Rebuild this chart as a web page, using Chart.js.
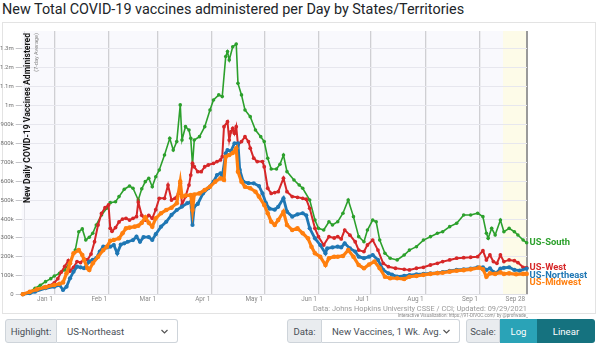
<!DOCTYPE html>
<html lang="en">
<head>
<meta charset="UTF-8">
<title>New Total COVID-19 vaccines administered per Day</title>
<script src="https://cdn.jsdelivr.net/npm/chart.js@4"></script>
<style>
  html, body { margin: 0; padding: 0; background: #fff; }
  body { width: 600px; height: 345px; position: relative; overflow: hidden;
         font-family: Roboto, 'Helvetica Neue', Arial, sans-serif; color: #212529; }
  #title { position: absolute; left: 2px; top: 1px; font-size: 14.4px; white-space: nowrap; }
  #box { position: absolute; left: 2px; top: 22px; width: 594px; height: 292px;
         border: 1px solid #e3e3e3; box-sizing: border-box; }
  #chart { position: absolute; left: 0; top: 22px; }
  #credit { position: absolute; right: 73px; top: 304px; font-size: 7.4px; color: #9a9a9a; white-space: nowrap; }
  #viz { position: absolute; right: 72px; top: 313px; font-size: 4.6px; color: #8a8a8a; white-space: nowrap; }
  .grp { position: absolute; top: 319px; height: 24px; display: flex; font-size: 9.6px; white-space: nowrap; }
  .lbl { background: #e9ecef; border: 1px solid #ced4da; color: #495057; border-radius: 3px 0 0 3px;
         display: flex; align-items: center; justify-content: center; box-sizing: border-box; }
  .sel { border: 1px solid #ced4da; border-left: none; border-radius: 0 3px 3px 0; color: #495057;
         display: flex; align-items: center; justify-content: space-between; padding: 0 9px 0 10px;
         box-sizing: border-box; background: #fff; }
  .btn { color: #fff; display: flex; align-items: center; justify-content: center; box-sizing: border-box; }
</style>
</head>
<body>
<div id="title">New Total COVID-19 vaccines administered per Day by States/Territories</div>
<div id="box"></div>
<canvas id="chart" width="600" height="290"></canvas>
<div id="credit">Data: Johns Hopkins University CSSE / CCI; Updated: 09/29/2021</div>
<div id="viz">Interactive Visualization: https://91-DIVOC.com/ by @profwade_</div>

<div class="grp" style="left:5px;">
  <div class="lbl" style="width:52px;">Highlight:</div>
  <div class="sel" style="width:121px;">US-Northeast
    <svg width="7" height="5" viewBox="0 0 7 5"><path d="M0.5 1 L3.5 4 L6.5 1" fill="none" stroke="#555" stroke-width="1.2"/></svg></div>
</div>
<div class="grp" style="left:287px;">
  <div class="lbl" style="width:35px;">Data:</div>
  <div class="sel" style="width:138px;">New Vaccines, 1 Wk. Avg.
    <svg width="7" height="5" viewBox="0 0 7 5"><path d="M0.5 1 L3.5 4 L6.5 1" fill="none" stroke="#555" stroke-width="1.2"/></svg></div>
</div>
<div class="grp" style="left:466px;">
  <div class="lbl" style="width:34px;">Scale:</div>
  <div class="btn" style="width:37px;background:#2aa3b7;">Log</div>
  <div class="btn" style="width:58px;background:#15727f;border-radius:0 3px 3px 0;">Linear</div>
</div>

<script>
// days counted from Jan 1 2021; values in thousands of doses (7-day average)
const tickDays = [-17, 0, 31, 59, 90, 120, 151, 181, 212, 243, 270];
const tickLabels = ['', 'Jan 1', 'Feb 1', 'Mar 1', 'Apr 1', 'May 1', 'Jun 1', 'Jul 1', 'Aug 1', 'Sep 1', 'Sep 28'];
const yTicks = [0, 100, 200, 300, 400, 500, 600, 700, 800, 900, 1000, 1100, 1200, 1300];

const south = [
  [-18,3],[-14,15],[-11,34],[-8,50],[-5,69],[-2,85],[0,99],[3,113],[6,131],[9,175],[12,236],[14,333],
  [16,348],[18,289],[20,304],[22,325],[24,369],[27,422],[30,457],[32,487],[35,492],[37,519],[40,558],
  [43,575],[45,563],[48,501],[50,560],[52,598],[54,616],[56,571],[58,624],[60,660],[63,739],[66,827],
  [68,765],[70,810],[72,1004],[73,818],[75,889],[77,871],[78,827],[79,686],[80,818],[83,836],[86,889],
  [89,977],[91,1030],[94,1057],[96,1048],[98,1260],[99,1286],[100,1242],[102,1312],[104,1326],[105,1118],
  [107,1057],[109,977],[112,942],[115,871],[118,836],[120,810],[122,722],[124,665],[127,665],[129,690],
  [131,739],[133,651],[137,607],[140,580],[142,563],[146,501],[149,395],[151,351],[154,342],[157,386],
  [159,369],[162,386],[165,431],[168,501],[171,413],[174,307],[177,280],[179,342],[182,395],[184,386],
  [186,289],[189,219],[192,193],[196,184],[200,210],[203,236],[207,254],[211,289],[215,307],[219,325],
  [222,333],[226,360],[230,378],[234,422],[238,422],[242,431],[245,413],[247,325],[248,298],[250,351],
  [252,316],[255,395],[257,333],[260,351],[263,333],[265,316],[268,289],[270,275]
];
const west = [
  [-18,2],[-14,10],[-10,25],[-6,38],[-3,48],[0,62],[2,85],[4,120],[6,150],[8,180],[9,125],[11,145],
  [13,175],[15,170],[17,190],[19,185],[21,215],[23,280],[25,369],[27,430],[29,460],[31,475],[32,351],
  [33,335],[35,355],[37,385],[39,400],[41,404],[43,395],[45,404],[47,413],[48,490],[50,420],[52,395],
  [54,420],[56,404],[58,450],[60,510],[63,510],[65,580],[67,501],[69,510],[71,536],[72,589],[73,475],
  [75,519],[77,580],[78,633],[79,695],[80,677],[82,651],[84,651],[86,677],[88,686],[91,695],[93,704],
  [95,713],[96,730],[97,889],[99,915],[100,818],[101,862],[102,880],[103,854],[104,889],[105,792],
  [107,810],[109,836],[111,810],[112,775],[114,722],[116,704],[119,704],[120,677],[122,563],[124,536],
  [126,540],[128,545],[131,616],[133,545],[136,519],[139,515],[142,510],[144,505],[146,457],[149,351],
  [151,307],[154,263],[157,307],[160,300],[162,307],[164,295],[166,342],[169,315],[172,280],[174,236],
  [177,228],[179,263],[182,289],[185,236],[188,166],[191,148],[195,140],[200,134],[203,131],[207,140],
  [211,145],[215,157],[219,166],[222,175],[226,184],[230,193],[234,196],[238,198],[242,201],[245,233],
  [247,184],[249,210],[251,175],[253,166],[255,210],[257,175],[260,184],[263,180],[265,170],[268,145],[270,143]
];
const northeast = [
  [-18,2],[-14,8],[-11,16],[-5,34],[0,42],[3,51],[5,25],[7,42],[9,87],[11,122],[13,148],[15,145],
  [17,140],[20,175],[22,185],[24,193],[26,228],[28,254],[30,250],[32,254],[34,263],[36,219],[38,265],
  [40,272],[42,280],[45,289],[47,307],[49,280],[51,305],[54,305],[56,290],[58,320],[61,360],[64,386],
  [67,422],[70,448],[73,466],[76,484],[78,490],[79,369],[80,466],[82,480],[85,536],[88,563],[91,598],
  [93,633],[95,642],[96,624],[98,748],[99,765],[101,760],[103,801],[105,801],[106,660],[108,598],
  [111,590],[114,589],[117,575],[119,536],[121,484],[123,455],[126,450],[128,465],[131,510],[133,439],
  [136,413],[139,425],[142,431],[144,420],[146,351],[149,298],[152,263],[155,219],[156,245],[159,250],
  [162,254],[164,250],[166,272],[169,245],[172,228],[174,201],[177,193],[180,201],[182,210],[185,184],
  [188,131],[191,113],[193,106],[196,96],[200,100],[203,104],[207,108],[211,110],[215,113],[219,116],
  [222,120],[226,126],[230,131],[234,134],[238,138],[242,145],[245,145],[247,131],[249,140],[251,120],
  [253,116],[255,138],[257,142],[260,145],[263,131],[266,127],[270,138]
];
const midwest = [
  [-18,2],[-14,15],[-10,28],[-5,40],[0,51],[3,58],[5,65],[7,113],[9,166],[11,219],[14,236],[16,210],
  [17,184],[19,140],[20,131],[22,166],[25,201],[28,236],[30,254],[32,285],[34,289],[37,298],[39,325],
  [41,351],[43,355],[46,360],[48,365],[50,380],[52,410],[54,380],[56,360],[58,404],[61,431],[64,448],
  [67,460],[70,484],[72,598],[73,519],[75,525],[78,527],[79,448],[80,530],[83,536],[86,554],[89,571],
  [92,598],[95,616],[97,607],[98,730],[100,739],[102,750],[104,775],[105,651],[107,598],[109,571],
  [112,563],[115,545],[117,519],[120,475],[122,431],[124,386],[126,369],[128,395],[131,439],[133,369],
  [136,342],[139,351],[142,325],[145,298],[147,254],[149,219],[152,201],[155,157],[157,193],[160,201],
  [162,201],[165,205],[168,236],[171,201],[174,157],[177,140],[180,160],[183,175],[186,140],[189,95],
  [192,87],[196,87],[200,83],[203,95],[207,99],[211,105],[215,110],[219,114],[222,116],[226,122],
  [230,127],[234,130],[238,134],[243,143],[245,135],[247,95],[249,113],[252,110],[255,118],[257,110],
  [260,113],[264,108],[268,110],[270,110]
];

// last few days are still being reported
const incompleteFrom = 256.5;

const series = [
  { name: 'US-Midwest', pts: midwest, color: '#ff7f0e', width: 3.2, radius: 2.3 },
  { name: 'US-Northeast', pts: northeast, color: '#1f77b4', width: 2.8, radius: 2.1 },
  { name: 'US-West', pts: west, color: '#d62728', width: 2, radius: 1.9 },
  { name: 'US-South', pts: south, color: '#2ca02c', width: 1.6, radius: 1.8 }
];

function fmtCount(v) {
  if (v === 0) return '0';
  if (v >= 1e6) return (v / 1e6) + 'm';
  return (v / 1e3) + 'k';
}

const plotBg = {
  id: 'plotBg',
  beforeDraw(chart) {
    const { ctx, chartArea: a, scales: { x } } = chart;
    ctx.save();
    ctx.fillStyle = '#f9f9fd';
    ctx.fillRect(a.left, a.top, a.right - a.left, a.bottom - a.top);
    const x0 = x.getPixelForValue(incompleteFrom);
    ctx.fillStyle = '#fdfbe8';
    ctx.fillRect(x0, a.top, a.right - x0, a.bottom - a.top);
    ctx.restore();
  }
};

const axisTitle = {
  id: 'axisTitle',
  afterDraw(chart) {
    const { ctx, chartArea: a } = chart;
    ctx.save();
    ctx.translate(a.left + 6.5, a.top + 2);
    ctx.rotate(-Math.PI / 2);
    ctx.textAlign = 'right';
    ctx.textBaseline = 'middle';
    ctx.fillStyle = '#111';
    ctx.font = 'bold 8.6px Roboto';
    ctx.fillText('New Daily COVID-19 Vaccines Administered', 0, 0);
    ctx.fillStyle = '#888';
    ctx.font = '5.6px Roboto';
    ctx.fillText('(7-day Average)', 0, 8);
    ctx.restore();
  }
};

// series names at the right end of each line, pushed apart when they collide
const endLabels = {
  id: 'endLabels',
  afterDatasetsDraw(chart) {
    const { ctx, scales: { y } } = chart;
    const items = chart.data.datasets.map(ds => ({
      text: ds.label, color: ds.borderColor,
      y: y.getPixelForValue(ds.data[ds.data.length - 1].y)
    })).sort((p, q) => p.y - q.y);
    for (let i = 1; i < items.length; i++) {
      if (items[i].y - items[i - 1].y < 7.6) items[i].y = items[i - 1].y + 7.6;
    }
    ctx.save();
    ctx.font = 'bold 9.4px Roboto';
    ctx.textBaseline = 'middle';
    items.forEach(it => {
      ctx.fillStyle = it.color;
      ctx.fillText(it.text, chart.chartArea.right + 2.5, it.y);
    });
    ctx.restore();
  }
};

new Chart(document.getElementById('chart'), {
  type: 'line',
  data: {
    datasets: series.map(s => ({
      label: s.name,
      data: s.pts.map(p => ({ x: p[0], y: p[1] * 1000 })),
      borderColor: s.color,
      backgroundColor: s.color,
      borderWidth: s.width,
      pointRadius: s.radius,
      pointBorderWidth: 0,
      tension: 0,
      clip: 2
    }))
  },
  options: {
    responsive: false,
    animation: false,
    devicePixelRatio: 1,
    layout: { padding: { top: 9, right: 73, left: 0, bottom: 0 } },
    plugins: { legend: { display: false }, tooltip: { enabled: false } },
    scales: {
      x: {
        type: 'linear',
        min: -18.63,
        max: 270.2,
        afterBuildTicks: axis => { axis.ticks = tickDays.map(v => ({ value: v })); },
        afterFit: axis => { axis.height = 17.3; },
        border: { display: true, color: '#dedee4' },
        grid: {
          drawTicks: false,
          color: c => c.index === 0 ? '#e2e2e8' : (c.index === tickDays.length - 1 ? '#9a9a9a' : '#cfcfd3'),
          lineWidth: c => c.index === 0 ? 1 : (c.index === tickDays.length - 1 ? 2 : 1.3)
        },
        ticks: {
          autoSkip: false, maxRotation: 0, minRotation: 0, align: 'end',
          padding: 1, labelOffset: -1.5, color: '#8a8a8a',
          font: { family: 'Roboto', size: 6.4 },
          callback: (v, i) => tickLabels[i]
        }
      },
      y: {
        min: 0,
        max: 1395000,
        afterBuildTicks: axis => { axis.ticks = yTicks.map(v => ({ value: v * 1000 })); },
        afterFit: axis => { axis.width = 21.7; },
        border: { display: false },
        grid: { color: '#e7e7ee', lineWidth: 1, tickLength: 6, tickColor: '#c4c4c8' },
        ticks: {
          autoSkip: false, padding: 2, color: '#6f6f6f',
          font: { family: 'Roboto', size: 6 },
          callback: v => fmtCount(v)
        }
      }
    }
  },
  plugins: [plotBg, axisTitle, endLabels]
});
</script>
</body>
</html>
